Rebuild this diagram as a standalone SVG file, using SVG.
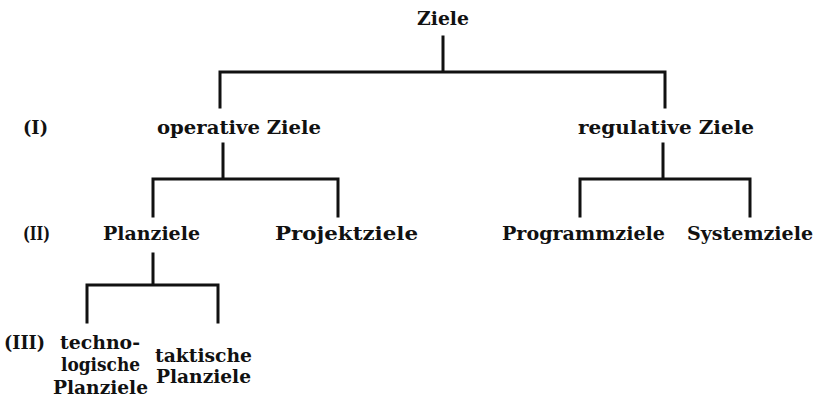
<svg xmlns="http://www.w3.org/2000/svg" width="819" height="399" viewBox="0 0 819 399">
<style>
text{font-family:"DejaVu Serif","Liberation Serif",serif;font-size:18.5px;font-weight:bold;fill:#111}
.c{stroke:#111;stroke-width:3;fill:none;stroke-linecap:square}
</style>
<rect width="819" height="399" fill="#fff"/>
<g id="connectors">
<path class="c" d="M443 37V72M220 72H665M220 72V107M665 72V107"/>
<path class="c" d="M223 144V179M153 179H338M153 179V216M338 179V216"/>
<path class="c" d="M663 144V179M580 179H750M580 179V216M750 179V216"/>
<path class="c" d="M153 254V285M87 285H218M87 285V322M218 285V322"/>
</g>
<g id="level-labels">
<text x="23" y="134" textLength="25" lengthAdjust="spacingAndGlyphs">(I)</text>
<text x="23" y="240" textLength="27" lengthAdjust="spacingAndGlyphs">(II)</text>
<text x="4" y="349" textLength="41" lengthAdjust="spacingAndGlyphs">(III)</text>
</g>
<g id="n-ziele"><text x="417" y="25" textLength="52" lengthAdjust="spacingAndGlyphs">Ziele</text></g>
<g id="n-operative"><text x="157" y="134" textLength="164" lengthAdjust="spacingAndGlyphs">operative Ziele</text></g>
<g id="n-regulative"><text x="578" y="134" textLength="176" lengthAdjust="spacingAndGlyphs">regulative Ziele</text></g>
<g id="n-planziele"><text x="103" y="240" textLength="97" lengthAdjust="spacingAndGlyphs">Planziele</text></g>
<g id="n-projektziele"><text x="275" y="240" textLength="143" lengthAdjust="spacingAndGlyphs">Projektziele</text></g>
<g id="n-programmziele"><text x="502" y="240" textLength="163" lengthAdjust="spacingAndGlyphs">Programmziele</text></g>
<g id="n-systemziele"><text x="687" y="240" textLength="126" lengthAdjust="spacingAndGlyphs">Systemziele</text></g>
<g id="n-technologische">
<text x="60" y="349" textLength="80" lengthAdjust="spacingAndGlyphs">techno-</text>
<text x="61" y="371" textLength="79" lengthAdjust="spacingAndGlyphs">logische</text>
<text x="53" y="394" textLength="95" lengthAdjust="spacingAndGlyphs">Planziele</text>
</g>
<g id="n-taktische">
<text x="155" y="362" textLength="97" lengthAdjust="spacingAndGlyphs">taktische</text>
<text x="156" y="383" textLength="95" lengthAdjust="spacingAndGlyphs">Planziele</text>
</g>
</svg>
